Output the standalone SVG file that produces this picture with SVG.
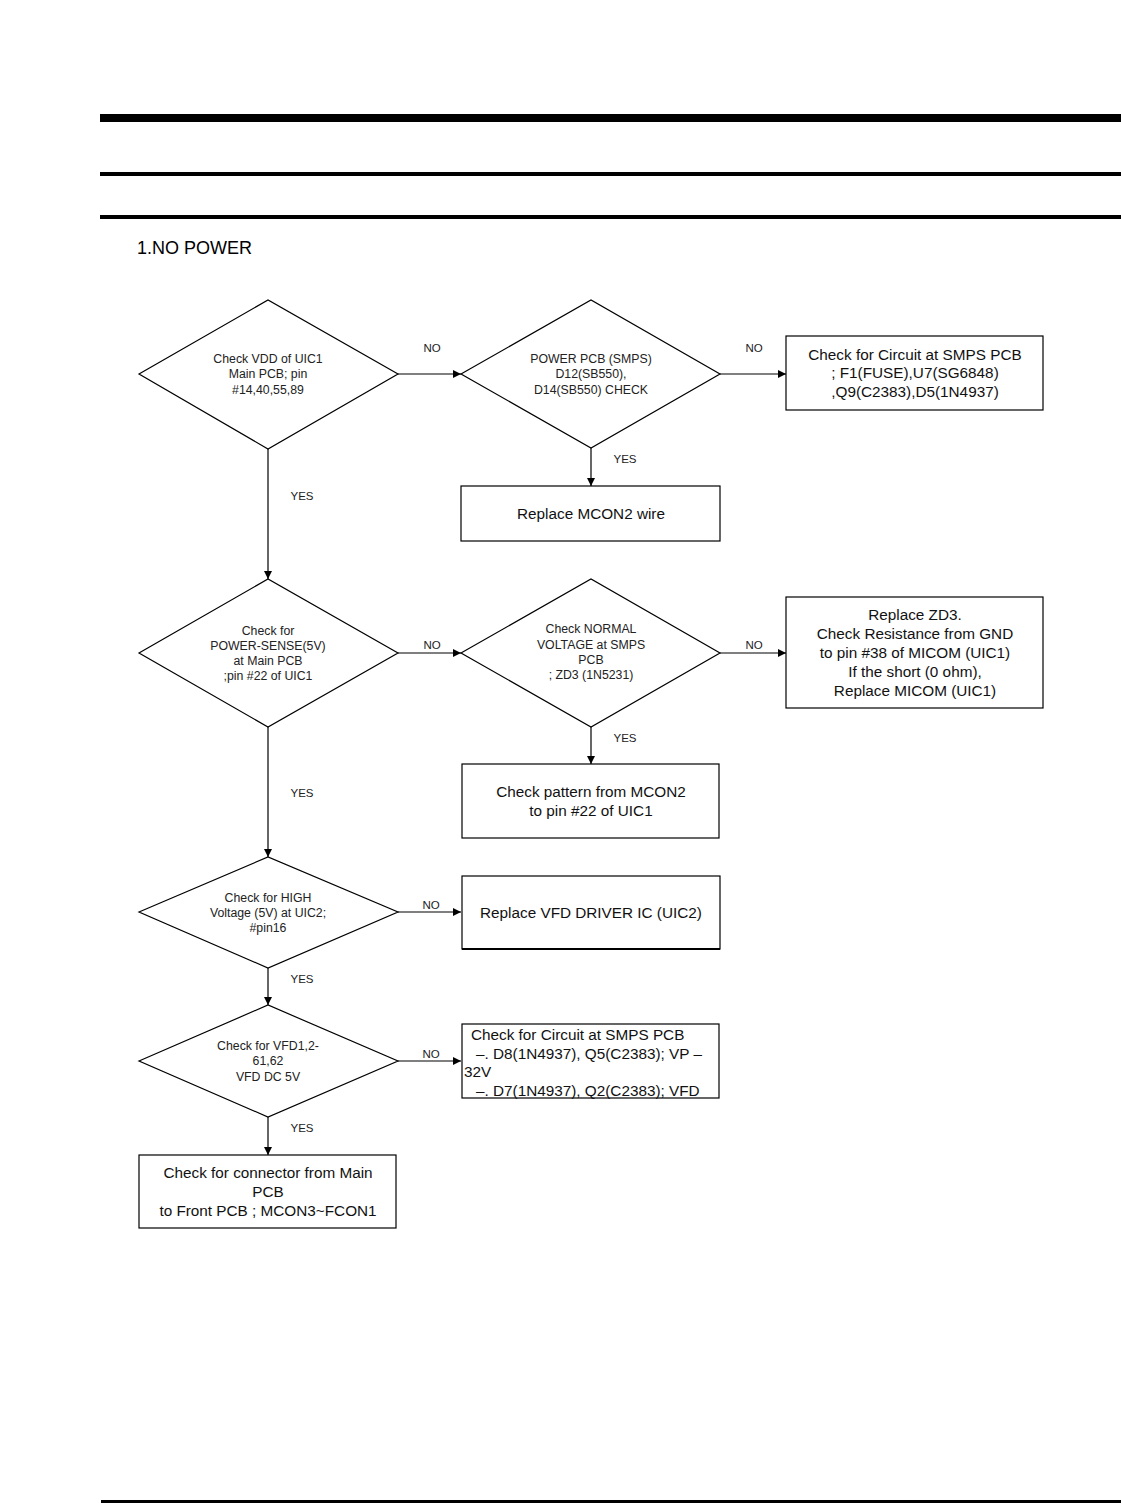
<svg xmlns="http://www.w3.org/2000/svg" width="1121" height="1503" viewBox="0 0 1121 1503">
<style>
.shape{fill:#fff;stroke:#000;stroke-width:1.2}
.edge{fill:none;stroke:#000;stroke-width:1.2}
.dt{font-family:"Liberation Sans",Arial,sans-serif;font-size:12.3px;fill:#222;text-anchor:middle}
.bt{font-family:"Liberation Sans",Arial,sans-serif;font-size:15.3px;fill:#111;text-anchor:middle}
.lt{font-family:"Liberation Sans",Arial,sans-serif;font-size:15.3px;fill:#111}
.lbl{font-family:"Liberation Sans",Arial,sans-serif;font-size:11.5px;fill:#222;text-anchor:middle}
</style>
<defs>
<marker id="ah" viewBox="0 0 10 10" refX="10" refY="5" markerWidth="8" markerHeight="8" markerUnits="userSpaceOnUse" orient="auto">
<path d="M0,0 L10,5 L0,10 z" fill="#000"/>
</marker>
</defs>
<rect width="1121" height="1503" fill="#fff"/>
<g id="header">
<rect x="100" y="114" width="1021" height="8" fill="#000"/>
<rect x="100" y="172" width="1021" height="4" fill="#000"/>
<rect x="100" y="215" width="1021" height="4" fill="#000"/>
<text x="137" y="254" font-family="'Liberation Sans',Arial,sans-serif" font-size="18" fill="#000">1.NO POWER</text>
<rect x="101" y="1500" width="1020" height="3" fill="#000"/>
</g>
<g id="connectors">
<line class="edge" x1="398" y1="374" x2="461" y2="374" marker-end="url(#ah)"/>
<line class="edge" x1="720" y1="374" x2="786" y2="374" marker-end="url(#ah)"/>
<line class="edge" x1="591" y1="448" x2="591" y2="486" marker-end="url(#ah)"/>
<line class="edge" x1="268" y1="449" x2="268" y2="579" marker-end="url(#ah)"/>
<line class="edge" x1="398" y1="653" x2="461" y2="653" marker-end="url(#ah)"/>
<line class="edge" x1="720" y1="653" x2="786" y2="653" marker-end="url(#ah)"/>
<line class="edge" x1="591" y1="727" x2="591" y2="764" marker-end="url(#ah)"/>
<line class="edge" x1="268" y1="727" x2="268" y2="857" marker-end="url(#ah)"/>
<line class="edge" x1="398" y1="912" x2="461" y2="912" marker-end="url(#ah)"/>
<line class="edge" x1="268" y1="968" x2="268" y2="1005" marker-end="url(#ah)"/>
<line class="edge" x1="398" y1="1061" x2="461" y2="1061" marker-end="url(#ah)"/>
<line class="edge" x1="268" y1="1117" x2="268" y2="1155" marker-end="url(#ah)"/>
<text class="lbl" x="432" y="352">NO</text>
<text class="lbl" x="754" y="352">NO</text>
<text class="lbl" x="625" y="463">YES</text>
<text class="lbl" x="302" y="500">YES</text>
<text class="lbl" x="432" y="649">NO</text>
<text class="lbl" x="754" y="649">NO</text>
<text class="lbl" x="625" y="742">YES</text>
<text class="lbl" x="302" y="797">YES</text>
<text class="lbl" x="431" y="909">NO</text>
<text class="lbl" x="302" y="983">YES</text>
<text class="lbl" x="431" y="1058">NO</text>
<text class="lbl" x="302" y="1132">YES</text>
</g>
<g id="d1">
<polygon class="shape" points="139,374 268,300 398,374 268,449"/>
<text class="dt" x="268" y="363">Check VDD of UIC1</text>
<text class="dt" x="268" y="378">Main PCB; pin</text>
<text class="dt" x="268" y="394">#14,40,55,89</text>
</g>
<g id="d2">
<polygon class="shape" points="461,374 591,300 720,374 591,448"/>
<text class="dt" x="591" y="363">POWER PCB (SMPS)</text>
<text class="dt" x="591" y="378">D12(SB550),</text>
<text class="dt" x="591" y="394">D14(SB550) CHECK</text>
</g>
<g id="b1">
<rect class="shape" x="786" y="336" width="257" height="74"/>
<text class="bt" x="915" y="360">Check for Circuit at SMPS PCB</text>
<text class="bt" x="915" y="378">; F1(FUSE),U7(SG6848)</text>
<text class="bt" x="915" y="397">,Q9(C2383),D5(1N4937)</text>
</g>
<g id="b2">
<rect class="shape" x="461" y="486" width="259" height="55"/>
<text class="bt" x="591" y="519">Replace MCON2 wire</text>
</g>
<g id="d3">
<polygon class="shape" points="139,653 268,579 398,653 268,727"/>
<text class="dt" x="268" y="635">Check for</text>
<text class="dt" x="268" y="650">POWER-SENSE(5V)</text>
<text class="dt" x="268" y="665">at Main PCB</text>
<text class="dt" x="268" y="680">;pin #22 of UIC1</text>
</g>
<g id="d4">
<polygon class="shape" points="461,653 591,579 720,653 591,727"/>
<text class="dt" x="591" y="633">Check NORMAL</text>
<text class="dt" x="591" y="649">VOLTAGE at SMPS</text>
<text class="dt" x="591" y="664">PCB</text>
<text class="dt" x="591" y="679">; ZD3 (1N5231)</text>
</g>
<g id="b3">
<rect class="shape" x="786" y="597" width="257" height="111"/>
<text class="bt" x="915" y="620">Replace ZD3.</text>
<text class="bt" x="915" y="639">Check Resistance from GND</text>
<text class="bt" x="915" y="658">to pin #38 of MICOM (UIC1)</text>
<text class="bt" x="915" y="677">If the short (0 ohm),</text>
<text class="bt" x="915" y="696">Replace MICOM (UIC1)</text>
</g>
<g id="b4">
<rect class="shape" x="462" y="764" width="257" height="74"/>
<text class="bt" x="591" y="797">Check pattern from MCON2</text>
<text class="bt" x="591" y="816">to pin #22 of UIC1</text>
</g>
<g id="d5">
<polygon class="shape" points="139,912 268,857 398,912 268,968"/>
<text class="dt" x="268" y="902">Check for HIGH</text>
<text class="dt" x="268" y="917">Voltage (5V) at UIC2;</text>
<text class="dt" x="268" y="932">#pin16</text>
</g>
<g id="b5">
<rect class="shape" x="462" y="876" width="258" height="73"/>
<line x1="462" y1="949" x2="720" y2="949" stroke="#000" stroke-width="2"/>
<text class="bt" x="591" y="918">Replace VFD DRIVER IC (UIC2)</text>
</g>
<g id="d6">
<polygon class="shape" points="139,1061 268,1005 398,1061 268,1117"/>
<text class="dt" x="268" y="1050">Check for VFD1,2-</text>
<text class="dt" x="268" y="1065">61,62</text>
<text class="dt" x="268" y="1081">VFD DC 5V</text>
</g>
<g id="b6">
<rect class="shape" x="462" y="1024" width="257" height="74"/>
<text class="lt" x="471" y="1040">Check for Circuit at SMPS PCB</text>
<text class="lt" x="476" y="1059">–. D8(1N4937), Q5(C2383); VP –</text>
<text class="lt" x="464" y="1077">32V</text>
<text class="lt" x="476" y="1096">–. D7(1N4937), Q2(C2383); VFD</text>
</g>
<g id="b7">
<rect class="shape" x="139" y="1155" width="257" height="73"/>
<text class="bt" x="268" y="1178">Check for connector from Main</text>
<text class="bt" x="268" y="1197">PCB</text>
<text class="bt" x="268" y="1216">to Front PCB ; MCON3~FCON1</text>
</g>
</svg>
